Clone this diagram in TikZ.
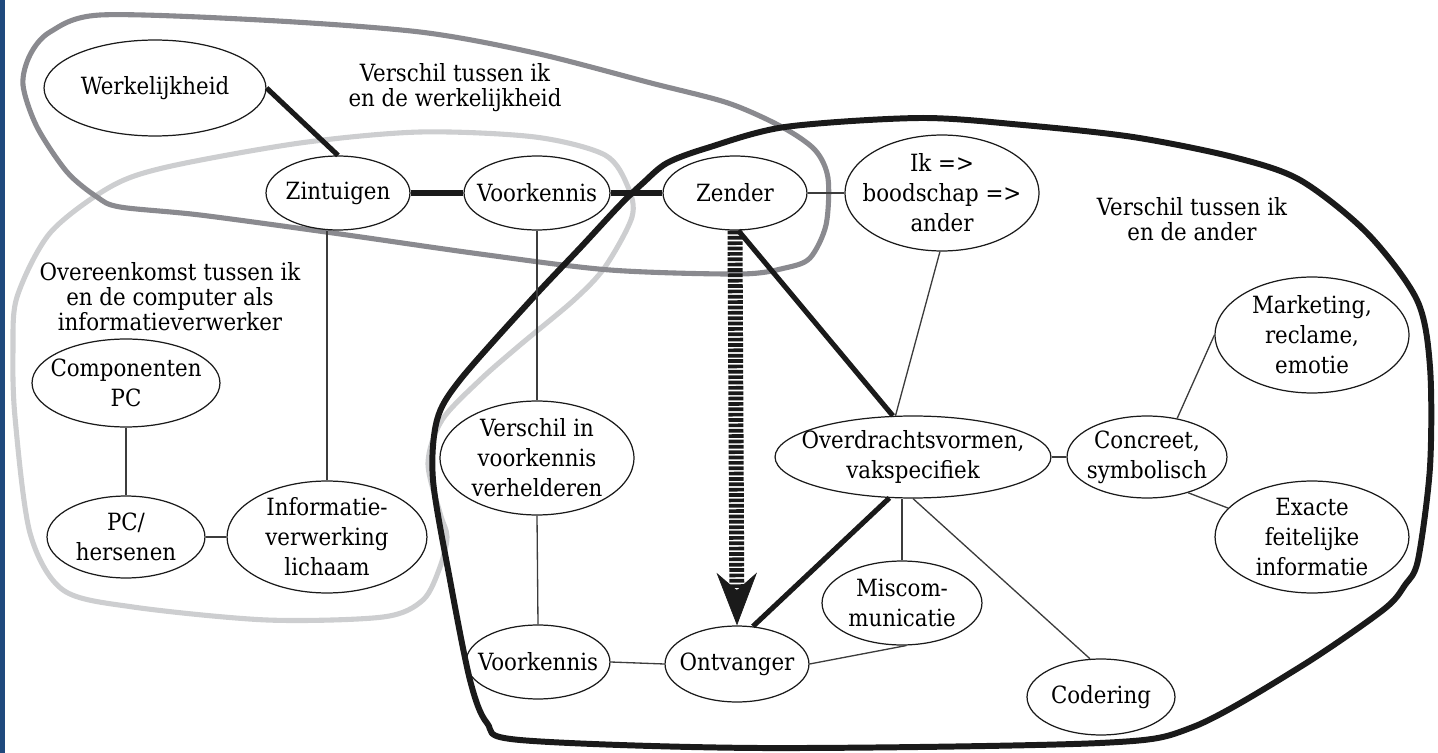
\documentclass[tikz,border=0pt]{standalone}
\usepackage{fontspec}
\setmainfont{DejaVu Serif Condensed}
\usetikzlibrary{shapes.geometric,arrows.meta}
\definecolor{navyband}{RGB}{31,73,125}
\definecolor{realgrey}{RGB}{138,138,143}
\definecolor{pcgrey}{RGB}{205,206,208}
\definecolor{inkblack}{RGB}{26,26,26}

\begin{document}
\begin{tikzpicture}[x=0.02cm, y=-0.02cm,
concept/.style={ellipse, draw=inkblack, line width=0.7pt, inner xsep=-14pt, inner ysep=-5pt, align=center, font=\fontsize{13.5}{17}\selectfont},
dims/.style 2 args={minimum width=#1*0.04cm, minimum height=#2*0.04cm},
areatext/.style={align=center, font=\fontsize{13.5}{14.2}\selectfont},
thinlink/.style={draw=inkblack!85, line width=0.75pt},
thicklink/.style={draw=inkblack, line width=2.9pt},
blob/.style={line width=2.9pt, line join=round},
stripes/.style={draw=inkblack, line width=8.5pt, dash pattern=on 2.1pt off 0.95pt, -{Stealth[length=30pt, width=23pt, inset=10pt, line width=0.4pt]}},
]
\useasboundingbox (0,0) rectangle (1438,753);
\fill[navyband] (0,0) rectangle (4.5,753);

%Areas
\draw[blob, pcgrey] plot[smooth cycle] coordinates {(50,233) (110,187) (167,167) (300,143) (420,132) (535,137) (605,155) (628,187) (632,217) (605,267) (574,300) (520,345) (480,380) (442,420) (428,463) (440,513) (447,537) (440,567) (423,600) (383,617) (267,620) (133,607) (63,590) (30,533) (15,417) (13,350) (17,297)};
\draw[blob, realgrey] plot[smooth cycle] coordinates {(100,15) (260,20) (420,32) (535,53) (651,83) (728,103) (782,127) (815,150) (828,178) (826,225) (810,258) (785,268) (740,274) (610,270) (480,254) (333,233) (200,215) (120,207) (97,197) (67,172) (37,127) (23,85) (30,55) (50,32)};
\draw[blob, inkblack, line width=3.4pt] plot[smooth cycle] coordinates {(531,300) (581,247) (620,205) (643,183) (667,163) (707,148) (785,127) (920,118) (1023,125) (1133,137) (1233,157) (1300,180) (1367,233) (1417,300) (1430,367) (1430,467) (1418,560) (1405,585) (1383,610) (1300,667) (1193,727) (1100,743) (760,748) (520,740) (487,723) (470,680) (450,580) (433,480) (437,420) (460,380)};

%Nodes
\node[concept, dims={111}{48}] (werk) at (155,88) {Werkelijkheid};
\node[concept, dims={72}{37}] (zin) at (338,193) {Zintuigen};
\node[concept, dims={73}{37}] (vkTop) at (537,193) {Voorkennis};
\node[concept, dims={72}{37}] (zender) at (735,193) {Zender};
\node[concept, dims={97}{58}] (ikAnder) at (942,193) {Ik =>\\boodschap =>\\ander};
\node[concept, dims={94}{44}] (comp) at (126,383) {Componenten\\PC};
\node[concept, dims={79}{41}] (pcBrein) at (126,537) {PC/\\hersenen};
\node[concept, dims={100}{56}] (info) at (327,537) {Informatie-\\verwerking\\lichaam};
\node[concept, dims={97}{57}] (vkVerschil) at (537,458) {Verschil in\\voorkennis\\verhelderen};
\node[concept, dims={72}{37}] (vkBottom) at (538,662) {Voorkennis};
\node[concept, dims={72}{38}] (ontv) at (737,664) {Ontvanger};
\node[concept, dims={138}{41}] (overdr) at (913,457) {Overdrachtsvormen,\\vakspecifiek};
\node[concept, dims={80}{42}] (miscom) at (902,603) {Miscom-\\municatie};
\node[concept, dims={74}{38}] (coder) at (1101,697) {Codering};
\node[concept, dims={80}{41}] (concr) at (1147,457) {Concreet,\\symbolisch};
\node[concept, dims={97}{58}] (market) at (1312,335) {Marketing,\\reclame,\\emotie};
\node[concept, dims={97}{56}] (exact) at (1312,537) {Exacte\\feitelijke\\informatie};

%Labels
\node[areatext] (lblReal) at (455,88) {Verschil tussen ik\\en de werkelijkheid};
\node[areatext] (lblPC) at (170,297) {Overeenkomst tussen ik\\en de computer als\\informatieverwerker};
\node[areatext] (lblAnder) at (1192,219) {Verschil tussen ik\\en de ander};

%Lines
\draw[thicklink] (werk.east) -- (zin.north);
\draw[thicklink] (zin.east) -- (vkTop.west);
\draw[thicklink] (vkTop.east) -- (zender.west);
\draw[thicklink] (zender.-85) -- (overdr.116);
\draw[thicklink] (overdr.-120) -- (ontv.67);
\draw[thinlink] (zender.east) -- (ikAnder.west);
\draw[thinlink] (ikAnder.-92) -- (overdr.113);
\draw[thinlink] (info.north) -- (info.north |- zin.south);
\draw[thinlink] (vkTop.south) -- (vkVerschil.north);
\draw[thinlink] (vkVerschil.south) -- (vkBottom.north);
\draw[thinlink] (vkBottom.east) -- (ontv.west);
\draw[thinlink] (comp.south) -- (pcBrein.north);
\draw[thinlink] (pcBrein.east) -- (info.west);
\draw[thinlink] (overdr.east) -- (concr.west);
\draw[thinlink] (miscom.north) -- (miscom.north |- overdr.south);
\draw[thinlink] (overdr.south) -- (coder.106);
\draw[thinlink] (ontv.east) -- (miscom.-84);
\draw[thinlink] (concr.52) -- (market.west);
\draw[thinlink] (concr.-41) -- (exact.161);
\draw[stripes] (zender.south) -- (ontv.north);
\end{tikzpicture}
\end{document}
